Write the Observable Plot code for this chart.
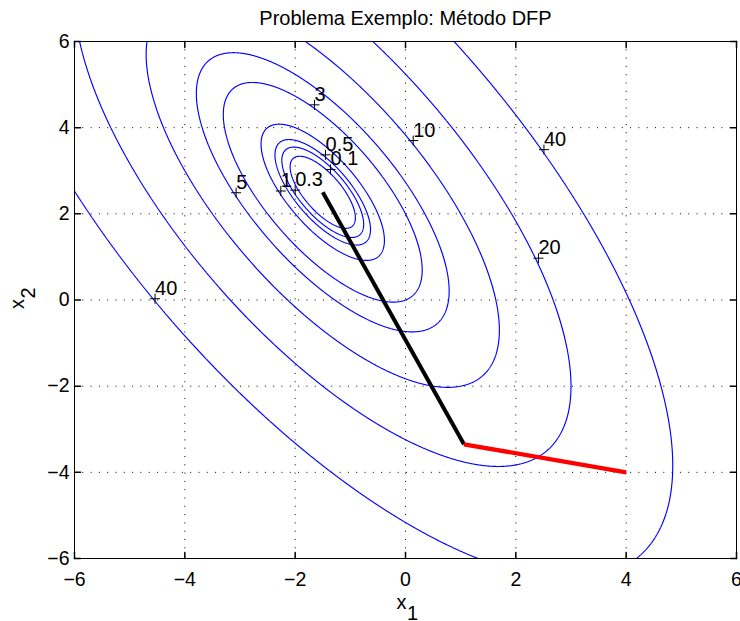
<!DOCTYPE html>
<html><head><meta charset="utf-8">
<script src="https://cdn.jsdelivr.net/npm/d3@7"></script>
<script src="https://cdn.jsdelivr.net/npm/@observablehq/plot@0.6"></script>
<style>
html,body{margin:0;padding:0;background:#fff;}
#chart svg{display:block;}
</style></head><body><div id="chart"></div>
<script>
// contour levels drawn
const levels = [0.1, 0.3, 0.5, 1, 3, 5, 10, 20, 40];
// objective f(x1,x2) = q[0]*x1^2 + q[1]*x1*x2 + q[2]*x2^2 + l[0]*x1 + l[1]*x2 + c
const quadCoef = [2, 2, 1];
const linCoef = [1, -2];
const constTerm = 3;
// DFP iterations
const redStepX = [4, 1.06];
const redStepY = [-4, -3.35];
const blackStepX = [1.06, -1.5];
const blackStepY = [-3.35, 2.5];
// contour label markers
const labelX = [-1.65, -1.45, -1.36, -2.26, -2.0, -3.07, 0.14, 2.51, 2.41, -4.54];
const labelY = [4.53, 3.37, 3.03, 2.53, 2.55, 2.49, 3.70, 3.49, 0.97, 0.03];
const labelText = ["3", "0.5", "0.1", "1", "0.3", "5", "10", "40", "20", "40"];
// axes
const tickValues = [-6, -4, -2, 0, 2, 4, 6];
const gridValues = [-4, -2, 0, 2, 4];
const titleText = "Problema Exemplo: Método DFP";
const xLabelMain = "x", xLabelSub = "1";
const yLabelMain = "x", yLabelSub = "2";

const f = (x1, x2) => quadCoef[0]*x1*x1 + quadCoef[1]*x1*x2 + quadCoef[2]*x2*x2 + linCoef[0]*x1 + linCoef[1]*x2 + constTerm;

const redPath = redStepX.map((x, i) => ({x, y: redStepY[i]}));
const blackPath = blackStepX.map((x, i) => ({x, y: blackStepY[i]}));
const labels = labelX.map((x, i) => ({x, y: labelY[i], t: labelText[i]}));

const tickShape = {draw(ctx, l) { ctx.moveTo(0, 0); ctx.lineTo(0, -l); }};
const plusSymbol = {draw(ctx, size) { const r = Math.sqrt(size / Math.PI); ctx.moveTo(-r, 0); ctx.lineTo(r, 0); ctx.moveTo(0, -r); ctx.lineTo(0, r); }};
const dots = "1,7.3";

const chart = Plot.plot({
  width: 740,
  height: 621,
  marginLeft: 74,
  marginRight: 4,
  marginTop: 41,
  marginBottom: 63,
  style: {fontFamily: "'Liberation Sans', Arial, Helvetica, sans-serif", fontSize: "20px", background: "#fff", color: "#000", overflow: "visible"},
  x: {domain: [-6, 6], label: null},
  y: {domain: [-6, 6], label: null},
  marks: [
    Plot.ruleX(gridValues, {x: d => d, stroke: "#000", strokeWidth: 1, strokeDasharray: dots}),
    Plot.ruleY(gridValues, {y: d => d, stroke: "#000", strokeWidth: 1, strokeDasharray: dots}),
    Plot.contour({value: f, x1: -7, x2: 7, y1: -7, y2: 7, thresholds: levels, pixelSize: 0.5, stroke: "#0000ff", fill: "none", strokeWidth: 1.15, clip: true}),
    Plot.line(blackPath, {x: "x", y: "y", stroke: "#000", strokeWidth: 4, strokeLinecap: "butt"}),
    Plot.line(redPath, {x: "x", y: "y", stroke: "#ff0000", strokeWidth: 4.3, strokeLinecap: "butt"}),
    Plot.dot(labels, {x: "x", y: "y", symbol: plusSymbol, r: 5, stroke: "#000", fill: "none", strokeWidth: 1}),
    Plot.text(labels, {x: "x", y: "y", text: "t", textAnchor: "start", lineAnchor: "bottom", dy: -4, fill: "#000", fontSize: 20}),
    Plot.vector(tickValues, {x: d => d, y: -6, length: 6, rotate: 0, anchor: "start", shape: tickShape, stroke: "#000"}),
    Plot.vector(tickValues, {x: d => d, y: 6, length: 6, rotate: 180, anchor: "start", shape: tickShape, stroke: "#000"}),
    Plot.vector(tickValues, {x: -6, y: d => d, length: 6, rotate: 90, anchor: "start", shape: tickShape, stroke: "#000"}),
    Plot.vector(tickValues, {x: 6, y: d => d, length: 6, rotate: -90, anchor: "start", shape: tickShape, stroke: "#000"}),
    Plot.frame({stroke: "#000", strokeWidth: 1}),
    Plot.axisX({ticks: tickValues, tickSize: 0, tickPadding: 14, anchor: "bottom", label: null, fontSize: 19.5}),
    Plot.axisY({ticks: tickValues, tickSize: 0, tickPadding: 5, anchor: "left", label: null, fontSize: 19.5}),
    Plot.text([titleText], {text: d => d, frameAnchor: "top", dy: -17, lineAnchor: "bottom", fontSize: 20}),
    Plot.text([xLabelMain], {text: d => d, frameAnchor: "bottom", textAnchor: "end", lineAnchor: "bottom", dx: 1, dy: 50.5, fontSize: 20}),
    Plot.text([xLabelSub], {text: d => d, frameAnchor: "bottom", textAnchor: "start", lineAnchor: "bottom", dx: 1.5, dy: 61, fontSize: 20}),
    Plot.text([yLabelMain], {text: d => d, frameAnchor: "left", textAnchor: "end", lineAnchor: "bottom", rotate: -90, dx: -50.7, dy: -1, fontSize: 20}),
    Plot.text([yLabelSub], {text: d => d, frameAnchor: "left", textAnchor: "start", lineAnchor: "bottom", rotate: -90, dx: -40, dy: -1.5, fontSize: 20})
  ]
});
document.getElementById("chart").appendChild(chart);
</script>
</body></html>
